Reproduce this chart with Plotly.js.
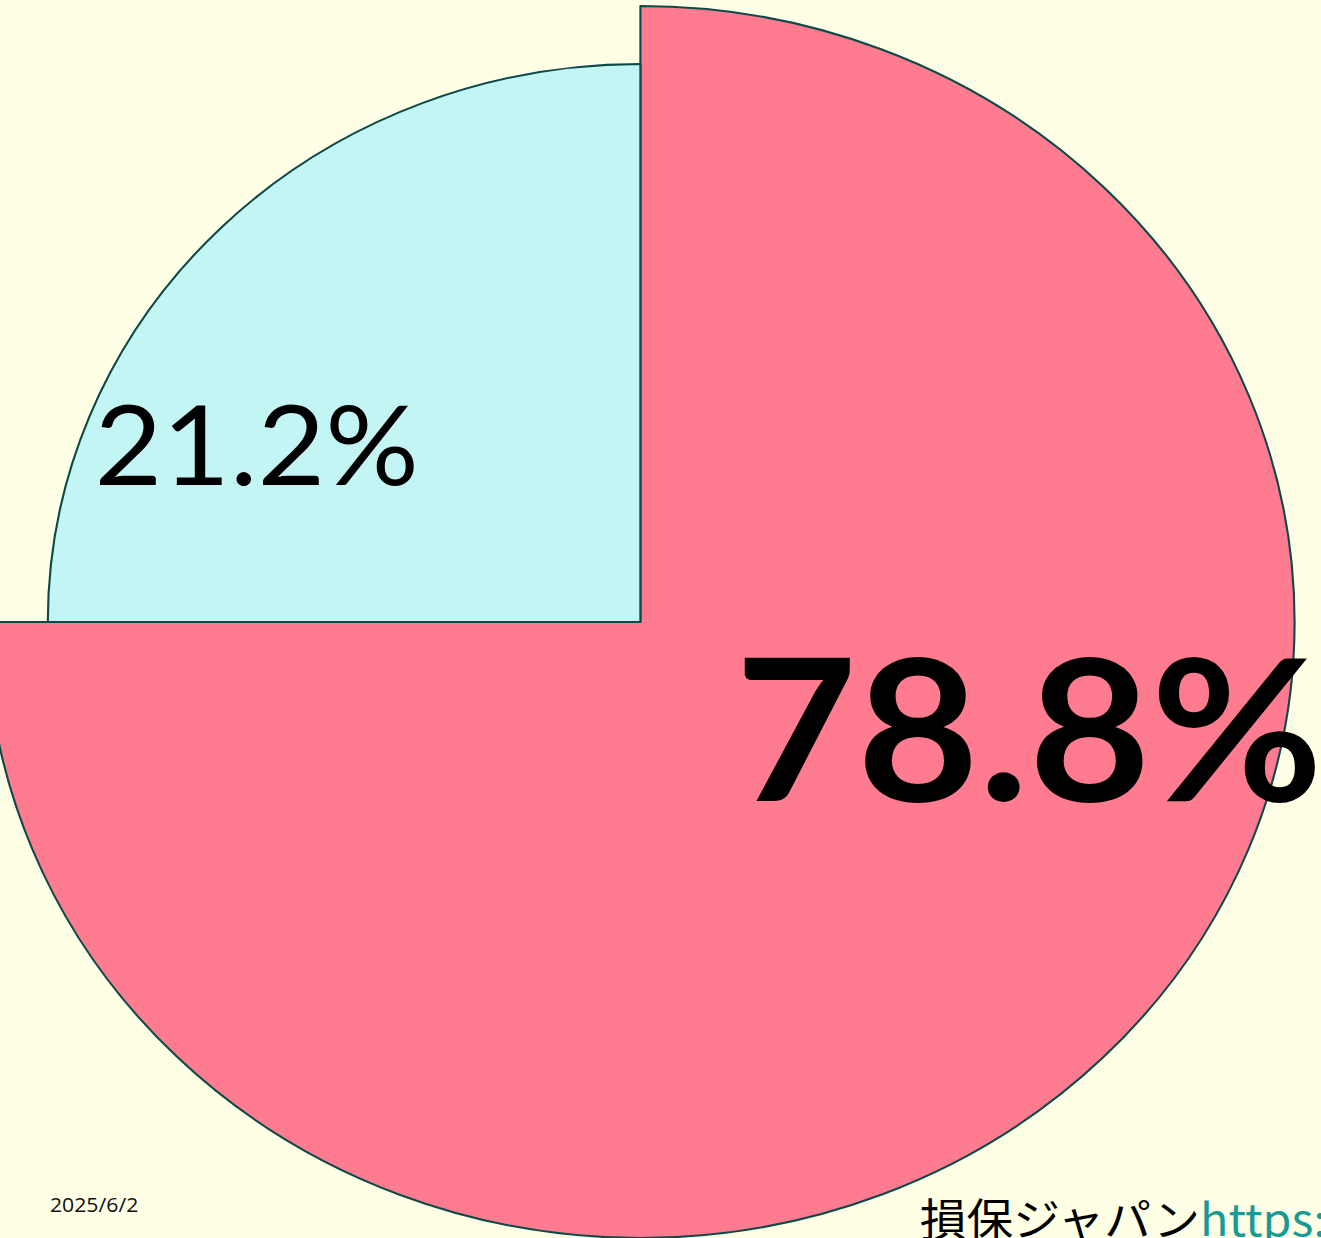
<!DOCTYPE html>
<html>
<head>
<meta charset="utf-8">
<script src="https://cdn.plot.ly/plotly-3.0.1.min.js"></script>
<style>
  html, body { margin: 0; padding: 0; width: 1321px; height: 1238px; overflow: hidden; background: #FFFFE6; }
  #chart { position: absolute; top: 0; left: -103.4px; width: 1400px; height: 1238px; transform: scaleX(1.062); transform-origin: 0 0; }
</style>
</head>
<body>
<div id="chart"></div>
<script>
// ---- data ----
const categories = ["該当", "非該当"];
const percentLabels = ["78.8%", "21.2%"];      // printed percentages
const drawnShares = [75, 25];                   // angular share of each drawn slice (270° / 90°)
const dateText = "2025/6/2";
const sourceName = "損保ジャパン";
const sourceUrl = "https://";

// ---- layout helpers (page pixels -> paper coords of the stretched div) ----
const S = 1.062, LEFT = -103.4, W = 1400, H = 1238;
const px = x => ((x - LEFT) / S) / W;
const py = y => (H - y) / H;
const CX = 700, CY = 616; // pie centre in div px (from left / from bottom)
function dom(r) { return { x: [(CX - r) / W, (CX + r) / W], y: [(CY - r) / H, (CY + r) / H] }; }

const pink = "#FF7B8F", cyan = "#C4F5F5", edge = "#0B4A48", clear = "rgba(0,0,0,0)";

const traces = [
  {
    type: "pie", labels: categories, values: drawnShares, sort: false,
    direction: "clockwise", rotation: 0, textinfo: "none", hoverinfo: "skip",
    showlegend: false, domain: dom(616),
    marker: { colors: [pink, clear], line: { color: [edge, clear], width: [2, 0] } }
  },
  {
    type: "pie", labels: categories, values: drawnShares, sort: false,
    direction: "clockwise", rotation: 0, textinfo: "none", hoverinfo: "skip",
    showlegend: false, domain: dom(558),
    marker: { colors: [clear, cyan], line: { color: [clear, edge], width: [0, 2] } }
  }
];

const layout = {
  width: W, height: H,
  margin: { l: 0, r: 0, t: 0, b: 0 },
  paper_bgcolor: "#FFFFE6", plot_bgcolor: "#FFFFE6",
  showlegend: false,
  annotations: [
    { text: "<b>" + percentLabels[0] + "</b>", x: px(1029), y: py(724), xref: "paper", yref: "paper",
      xanchor: "center", yanchor: "middle", showarrow: false,
      font: { family: "Lato, 'Noto Sans', sans-serif", size: 198, color: "#000" } },
    { text: percentLabels[1], x: px(257), y: py(442), xref: "paper", yref: "paper",
      xanchor: "center", yanchor: "middle", showarrow: false,
      font: { family: "Lato, 'Noto Sans', sans-serif", size: 110, color: "#000" } },
    { text: dateText, x: px(47), y: py(1204), xref: "paper", yref: "paper",
      xanchor: "left", yanchor: "middle", showarrow: false,
      font: { family: "'Open Sans', 'Noto Sans', sans-serif", size: 20, color: "#111" } },
    { text: sourceName + "<span style='color:#1A9A96'>" + sourceUrl + "</span>", x: px(917), y: py(1217), xref: "paper", yref: "paper",
      xanchor: "left", yanchor: "middle", showarrow: false,
      font: { family: "'Noto Sans CJK JP', 'Noto Sans', sans-serif", size: 44, color: "#000" } }
  ]
};

Plotly.newPlot("chart", traces, layout, { staticPlot: true, displayModeBar: false });
</script>
</body>
</html>
